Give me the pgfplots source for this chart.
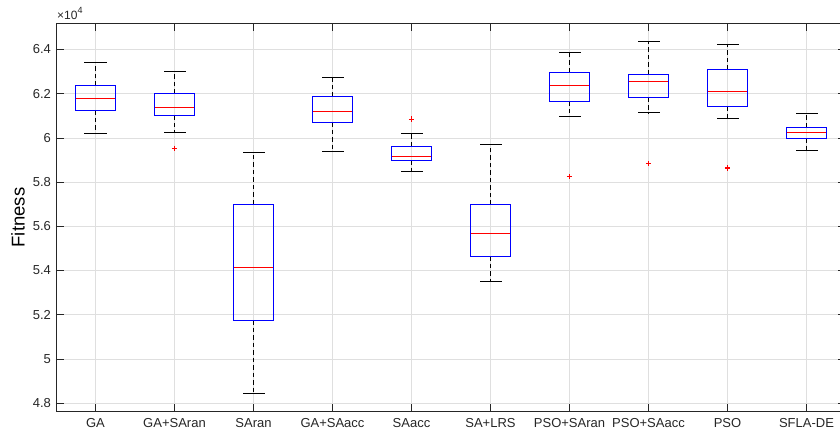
\documentclass[border=0pt]{standalone}
\usepackage{fontspec}
\setmainfont{Liberation Sans}
\usepackage{pgfplots}
\pgfplotsset{compat=1.18}
\usepgfplotslibrary{statistics}
\definecolor{axgray}{RGB}{38,38,38}
\definecolor{gridgray}{RGB}{223,223,223}
\definecolor{mblue}{RGB}{0,0,255}
\definecolor{mred}{RGB}{255,0,0}
\pgfplotsset{
  boxplot/draw direction=y,
  boxplot/box extend=0.506,
  boxplot/whisker extend=0,
  boxplot/every box/.style={draw=mblue, line width=1pt, solid},
  boxplot/every median/.style={draw=mred, line width=1pt, solid},
  boxplot/every whisker/.style={draw=black, line width=0.9pt, dash pattern=on 4.5pt off 3pt},
  mybox/.style={
    color=mblue, solid,
    mark=+, mark size=2.6pt, mark options={draw=mred, color=mred, line width=1pt, solid},
  },
}
\begin{document}
\begin{tikzpicture}
\begin{axis}[
  scale only axis, width=790pt, height=388pt,
  xmin=0.5, xmax=10.5, ymin=4.762, ymax=6.517,
  xtick={1,...,10},
  xticklabels={GA,GA+SAran,SAran,GA+SAacc,SAacc,SA+LRS,PSO+SAran,PSO+SAacc,PSO,SFLA-DE},
  ytick={4.8,5,5.2,5.4,5.6,5.8,6,6.2,6.4},
  yticklabels={4.8,5,5.2,5.4,5.6,5.8,6,6.2,6.4},
  tick label style={font=\fontsize{13}{15}\selectfont, text=axgray},
  xticklabel style={yshift=-3pt},
  yticklabel style={xshift=-1.5pt},
  ylabel={Fitness},
  every axis y label/.style={at={(rel axis cs:0,0.5)}, xshift=-38pt, rotate=90, anchor=center, font=\fontsize{18.5}{20}\selectfont, text=black},
  grid=major,
  major grid style={gridgray, line width=0.6pt},
  tick align=inside,
  major tick length=7.8pt,
  tick style={axgray, line width=0.6pt},
  axis line style={axgray, line width=0.6pt},
  clip=false,
]
\coordinate (sw) at (rel axis cs:0,0);
\coordinate (ne) at (rel axis cs:1,1);
\node[anchor=south west, inner sep=0pt, yshift=4pt, xshift=1pt, font=\fontsize{12}{13}\selectfont, text=axgray] at (rel axis cs:0,1) {×10\raisebox{0.45em}{\fontsize{9}{10}\selectfont 4}};
% GA
\addplot[mybox, boxplot prepared={draw position=1, median=6.178, upper quartile=6.235, lower quartile=6.124, upper whisker=6.341, lower whisker=6.018}] coordinates {};
% GA+SAran
\addplot[mybox, boxplot prepared={draw position=2, median=6.139, upper quartile=6.199, lower quartile=6.101, upper whisker=6.300, lower whisker=6.024}] coordinates {(0,5.953)};
% SAran
\addplot[mybox, boxplot prepared={draw position=3, median=5.412, upper quartile=5.700, lower quartile=5.175, upper whisker=5.934, lower whisker=4.842}] coordinates {};
% GA+SAacc
\addplot[mybox, boxplot prepared={draw position=4, median=6.118, upper quartile=6.186, lower quartile=6.071, upper whisker=6.275, lower whisker=5.940}] coordinates {};
% SAacc
\addplot[mybox, boxplot prepared={draw position=5, median=5.916, upper quartile=5.961, lower quartile=5.899, upper whisker=6.018, lower whisker=5.846}] coordinates {(0,6.085)};
% SA+LRS
\addplot[mybox, boxplot prepared={draw position=6, median=5.567, upper quartile=5.697, lower quartile=5.465, upper whisker=5.968, lower whisker=5.348}] coordinates {};
% PSO+SAran
\addplot[mybox, boxplot prepared={draw position=7, median=6.237, upper quartile=6.296, lower quartile=6.166, upper whisker=6.388, lower whisker=6.098}] coordinates {(0,5.824)};
% PSO+SAacc
\addplot[mybox, boxplot prepared={draw position=8, median=6.255, upper quartile=6.288, lower quartile=6.181, upper whisker=6.434, lower whisker=6.113}] coordinates {(0,5.884)};
% PSO
\addplot[mybox, boxplot prepared={draw position=9, median=6.210, upper quartile=6.308, lower quartile=6.142, upper whisker=6.423, lower whisker=6.086}] coordinates {(0,5.861) (0,5.865)};
% SFLA-DE
\addplot[mybox, boxplot prepared={draw position=10, median=6.024, upper quartile=6.047, lower quartile=5.999, upper whisker=6.112, lower whisker=5.943}] coordinates {};
% whisker caps
\addplot[only marks, mark=-, mark size=11pt, mark options={black, line width=0.9pt, solid}] coordinates {
 (1,6.341) (1,6.018) (2,6.300) (2,6.024) (3,5.934) (3,4.842) (4,6.275) (4,5.940)
 (5,6.018) (5,5.846) (6,5.968) (6,5.348) (7,6.388) (7,6.098) (8,6.434) (8,6.113)
 (9,6.423) (9,6.086) (10,6.112) (10,5.943)};
\end{axis}
\pgfresetboundingbox
\path[use as bounding box] ([xshift=-56pt,yshift=-25.5pt]sw) rectangle ([xshift=-6pt,yshift=23.5pt]ne);
\end{tikzpicture}
\end{document}
